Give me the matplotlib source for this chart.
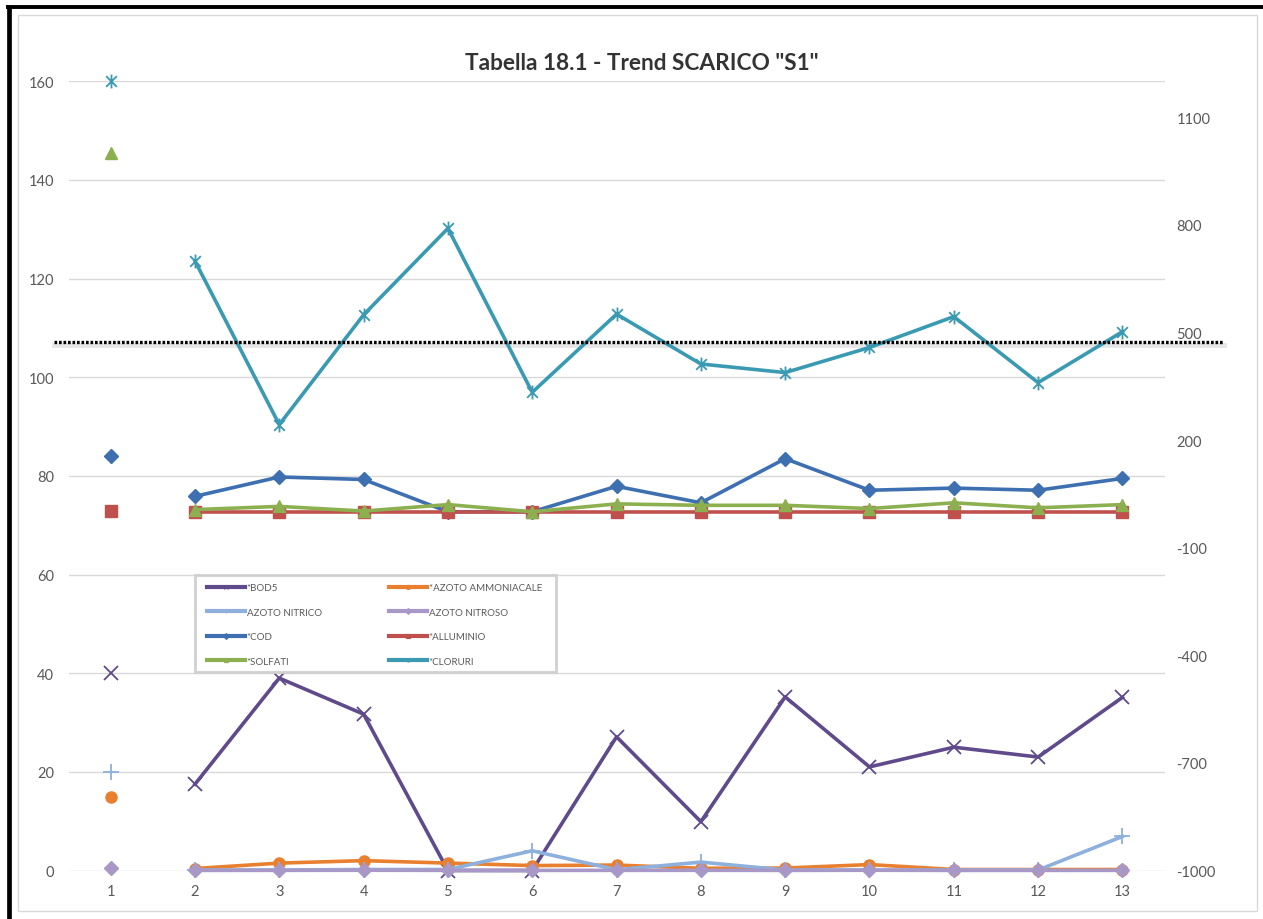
import matplotlib
matplotlib.use("Agg")
import matplotlib.pyplot as plt
from matplotlib.lines import Line2D
from matplotlib.path import Path

plt.rcParams['font.family'] = ['Lato', 'DejaVu Sans']
plt.rcParams['axes.unicode_minus'] = False

# ---------------- data ----------------
CATEGORIES = list(range(1, 14))
LIMIT_X = 1                      # first category holds the limit values
MEASURE_X = CATEGORIES[1:]       # categories 2..13 hold the measurements
TITLE = 'Tabella 18.1 - Trend SCARICO "S1"'

# left (primary) axis series
BOD5_LIMIT = 40
BOD5 = [17.5, 39.0, 31.7, 0.0, 0.0, 27.1, 9.9, 35.2, 21.0, 25.0, 23.0, 35.1]
AMM_LIMIT = 15
AZOTO_AMM = [0.4, 1.5, 2.0, 1.5, 1.0, 1.1, 0.45, 0.5, 1.2, 0.2, 0.2, 0.2]
NITRICO_LIMIT = 20
AZOTO_NITRICO = [0.1, 0.1, 0.2, 0.2, 4.0, 0.15, 1.7, 0.1, 0.1, 0.1, 0.1, 6.9]
NITROSO_LIMIT = 0.6
AZOTO_NITROSO = [0.02, 0.03, 0.05, 0.03, 0.02, 0.03, 0.04, 0.02, 0.05, 0.02, 0.02, 0.03]

# right (secondary) axis series
COD_LIMIT = 155
COD = [43, 97, 90, 0, 0, 71, 25, 148, 60, 66, 60, 93]
AL_LIMIT = 1
ALLUMINIO = [0.5, 0.5, 0.5, 0.5, 0.5, 0.5, 0.5, 0.5, 0.5, 0.5, 0.5, 0.5]
SOLFATI_LIMIT = 1000
SOLFATI = [6, 15, 2, 20, 0, 22, 18, 18, 9, 25, 11, 20]
CLORURI_LIMIT = 1200
CLORURI = [699, 243, 549, 790, 333, 551, 412, 388, 458, 544, 360, 502]

DOTTED_LEVEL = 472               # reference line, right-axis units

LEFT_TICKS = [0, 20, 40, 60, 80, 100, 120, 140, 160]
RIGHT_TICKS = [-1000, -700, -400, -100, 200, 500, 800, 1100]

LABELS = ['*BOD5', '*AZOTO AMMONIACALE', 'AZOTO NITRICO', 'AZOTO NITROSO',
          '*COD', '*ALLUMINIO', '*SOLFATI', '*CLORURI']

# ---------------- style ----------------
asterisk = Path([(-1, -1), (1, 1), (-1, 1), (1, -1), (0, -1.3), (0, 1.3)],
                [Path.MOVETO, Path.LINETO, Path.MOVETO, Path.LINETO,
                 Path.MOVETO, Path.LINETO])

STYLES = [
    dict(color='#5F4B8B', marker='x', ms=10.5, mew=1.3),
    dict(color='#E8802F', marker='o', ms=8, mew=1),
    dict(color='#8DB0DD', marker='+', ms=11, mew=1.3),
    dict(color='#A898C8', marker='D', ms=7, mew=1),
    dict(color='#3E6FB0', marker='D', ms=7.5, mew=1),
    dict(color='#C0504D', marker='s', ms=8, mew=1),
    dict(color='#8CB050', marker='^', ms=9, mew=1),
    dict(color='#3A9AB2', marker=asterisk, ms=10, mew=1.3),
]

TEXT_GREY = '#595959'
GRID_GREY = '#D9D9D9'
W, H = 1263, 920

fig = plt.figure(figsize=(12.63, 9.2), dpi=100)

# frame
fig.add_artist(Line2D([6/W, 1], [1 - 7.5/H] * 2, transform=fig.transFigure,
                      color='black', lw=2.8, solid_capstyle='butt'))
fig.add_artist(Line2D([8.5/W] * 2, [0, 1 - 6/H], transform=fig.transFigure,
                      color='black', lw=3.4, solid_capstyle='butt'))
fig.add_artist(plt.Rectangle((18/W, 1 - 912/H), (1257 - 18)/W, (912 - 16)/H,
                             transform=fig.transFigure, fill=False,
                             edgecolor=GRID_GREY, lw=1))

ax = fig.add_axes([68.5/W, 48.5/H, (1164.6 - 68.5)/W, (871.5 - 82.3)/H])
ax2 = ax.twinx()

left_series = [(BOD5_LIMIT, BOD5), (AMM_LIMIT, AZOTO_AMM),
               (NITRICO_LIMIT, AZOTO_NITRICO), (NITROSO_LIMIT, AZOTO_NITROSO)]
right_series = [(COD_LIMIT, COD), (AL_LIMIT, ALLUMINIO),
                (SOLFATI_LIMIT, SOLFATI), (CLORURI_LIMIT, CLORURI)]

handles = []
for i, (lim, vals) in enumerate(left_series + right_series):
    st = STYLES[i]
    a = ax if i < 4 else ax2
    a.plot(MEASURE_X, vals, color=st['color'], lw=2.6, marker=st['marker'],
           ms=st['ms'], mew=st['mew'], mfc=st['color'], mec=st['color'],
           solid_joinstyle='round', zorder=3 + i * 0.1, clip_on=False)
    a.plot([LIMIT_X], [lim], linestyle='none', marker=st['marker'],
           ms=st['ms'], mew=st['mew'], mfc=st['color'], mec=st['color'],
           zorder=3 + i * 0.1, clip_on=False)
    handles.append(Line2D([], [], color=st['color'], lw=3, marker=st['marker'],
                          ms=3, mew=0.8, mfc=st['color'], mec=st['color']))

ax.set_xlim(0.5, 13.5)
ax.set_ylim(0, 160)
ax2.set_ylim(-1000, 1200)
ax.set_xticks(CATEGORIES)
ax.set_yticks(LEFT_TICKS)
ax2.set_yticks(RIGHT_TICKS)
ax.grid(axis='y', color=GRID_GREY, lw=1)
ax.set_axisbelow(True)
for a in (ax, ax2):
    for s in a.spines.values():
        s.set_visible(False)
ax.tick_params(axis='both', length=0, labelsize=10.5, labelcolor=TEXT_GREY)
ax.tick_params(axis='y', pad=10.5)
ax.tick_params(axis='x', pad=10)
ax2.tick_params(axis='y', length=0, labelsize=10.5, labelcolor=TEXT_GREY, pad=8.5)

# dotted reference line (extends beyond plot area)
x0 = (54 - 68.5) / (1164.6 - 68.5)
x1 = (1223.5 - 68.5) / (1164.6 - 68.5)
ax2.axhline(DOTTED_LEVEL - 6, xmin=x0, xmax=x1, color='#BBBBBB', lw=3.5, alpha=0.35,
            clip_on=False, zorder=2.5)
ax2.axhline(DOTTED_LEVEL, xmin=x0, xmax=x1, color='black', lw=2.4,
            linestyle=(0, (0.8, 0.55)), dash_capstyle='butt', clip_on=False, zorder=4)

fig.text(642 / W, 1 - 63 / H, TITLE, ha='center', va='center',
         fontsize=16.3, fontweight='bold', color='#333333')

# legend: frame + two single-column legends (row-wise order like the reference)
frame = plt.Rectangle((195 / W, 1 - 673 / H), (556 - 195) / W, (673 - 576) / H,
                      transform=fig.transFigure, facecolor='white',
                      edgecolor='#D0D0D0', lw=2, zorder=20)
fig.add_artist(frame)
leg_kw = dict(loc='upper left', bbox_transform=fig.transFigure, fontsize=7,
              labelcolor=TEXT_GREY, frameon=False, handlelength=3.9,
              handletextpad=0.2, labelspacing=1.6, borderpad=0, borderaxespad=0)
col1 = [0, 2, 4, 6]
col2 = [1, 3, 5, 7]
legA = fig.legend([handles[i] for i in col1], [LABELS[i] for i in col1],
                  bbox_to_anchor=(207 / W, 1 - 584 / H), **leg_kw)
legB = fig.legend([handles[i] for i in col2], [LABELS[i] for i in col2],
                  bbox_to_anchor=(389 / W, 1 - 584 / H), **leg_kw)
legA.set_zorder(21)
legB.set_zorder(21)

fig.savefig('out.png', dpi=100)
